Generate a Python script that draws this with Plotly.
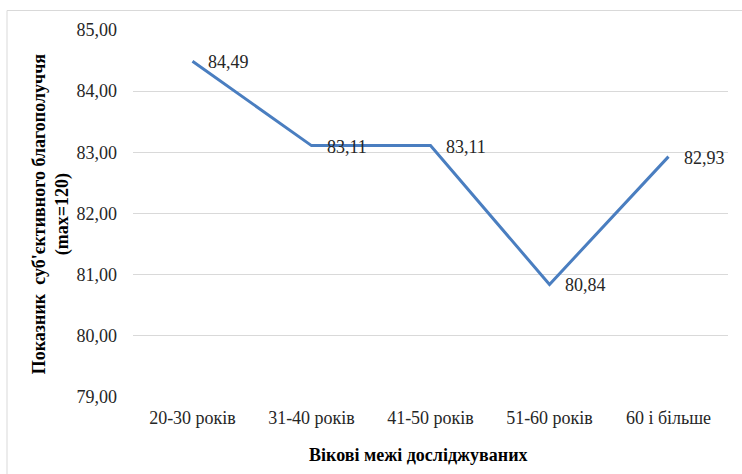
import plotly.graph_objects as go

categories = ["20-30 років", "31-40 років", "41-50 років", "51-60 років", "60 і більше"]
values = [84.49, 83.11, 83.11, 80.84, 82.93]
y_ticks = [79, 80, 81, 82, 83, 84, 85]
y_tick_labels = ["79,00", "80,00", "81,00", "82,00", "83,00", "84,00", "85,00"]
x_title = "Вікові межі досліджуваних"
y_title = "Показник\u00a0 суб'єктивного благополуччя<br>(max=120)"

FONT = "Liberation Serif"

fig = go.Figure()
fig.add_trace(go.Scatter(
    x=categories, y=values, mode="lines",
    line=dict(color="#4A7EC0", width=3),
    hoverinfo="skip", showlegend=False,
))

for c, v in zip(categories, values):
    fig.add_annotation(
        x=c, y=v, xref="x", yref="y",
        text=f"{v:.2f}".replace(".", ","),
        showarrow=False, xanchor="left", yanchor="middle",
        xshift=13, yshift=-1,
        font=dict(family=FONT, size=18, color="#262626"),
    )

W, H = 742, 474
L, R, T, B = 133, 14, 29.5, 77
pw = W - L - R
ph = H - T - B

# y-axis title
fig.add_annotation(
    xref="paper", yref="paper",
    x=(51 - L) / pw, y=1 - (214 - T) / ph,
    text="<b>" + y_title + "</b>", textangle=-90, showarrow=False,
    xanchor="center", yanchor="middle",
    font=dict(family=FONT, size=18, color="#000000"),
)
# x-axis title
fig.add_annotation(
    xref="paper", yref="paper",
    x=(418 - L) / pw, y=1 - (455 - T) / ph,
    text="<b>" + x_title + "</b>", showarrow=False,
    xanchor="center", yanchor="middle",
    font=dict(family=FONT, size=18, color="#000000"),
)

# chart border (light gray frame)
bx = (7 - L) / pw
by = 1 + (T - 10) / ph
fig.add_shape(type="line", xref="paper", yref="paper",
              x0=bx, x1=1 + (R + 20) / pw, y0=by, y1=by,
              line=dict(color="#D9D9D9", width=1))
fig.add_shape(type="line", xref="paper", yref="paper",
              x0=bx, x1=bx, y0=by, y1=-(B + 20) / ph,
              line=dict(color="#D9D9D9", width=1))

fig.update_layout(
    width=W, height=H,
    margin=dict(l=L, r=R, t=T, b=B, pad=0, autoexpand=False),
    paper_bgcolor="white", plot_bgcolor="white",
    font=dict(family=FONT, size=18, color="#262626"),
    xaxis=dict(
        type="category", range=[-0.5, len(categories) - 0.5],
        showgrid=False, zeroline=False, showline=False, automargin=False,
        ticks="", tickfont=dict(family=FONT, size=18, color="#262626"),
        ticklabelstandoff=8,
    ),
    yaxis=dict(
        range=[79, 85], tickvals=y_ticks, ticktext=y_tick_labels,
        showgrid=True, gridcolor="#D9D9D9", gridwidth=1, automargin=False,
        zeroline=False, showline=False, ticks="",
        tickfont=dict(family=FONT, size=18, color="#262626"),
        ticklabelstandoff=15,
    ),
)

fig.write_html("out.html")
